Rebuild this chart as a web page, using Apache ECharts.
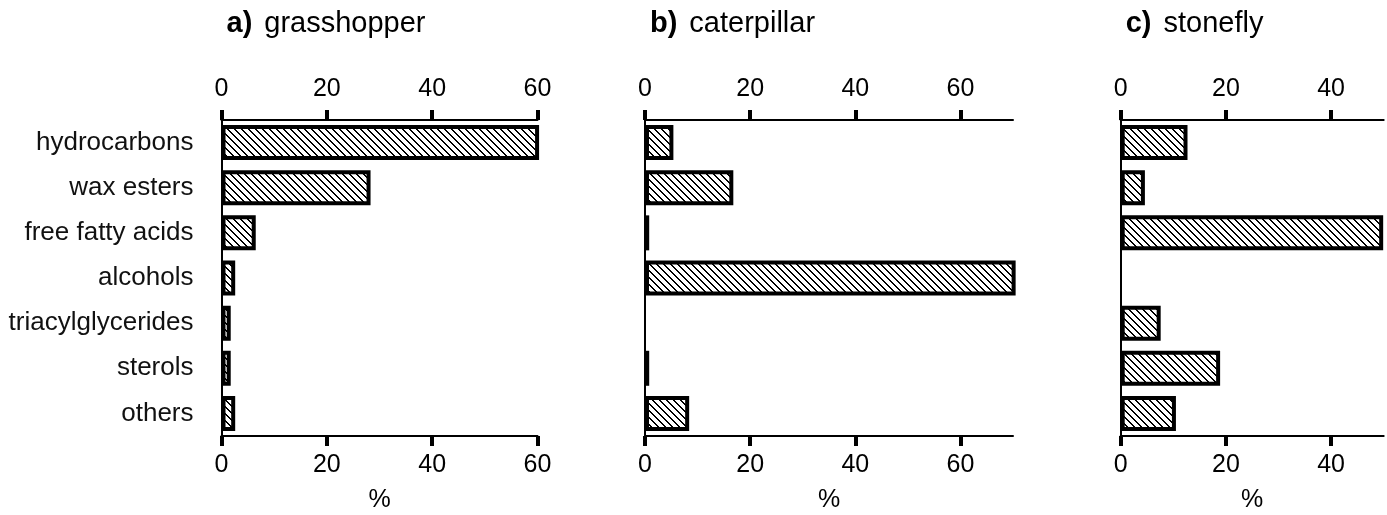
<!DOCTYPE html>
<html>
<head>
<meta charset="utf-8">
<script src="https://cdn.jsdelivr.net/npm/echarts@6/dist/echarts.min.js"></script>
<style>
html,body{margin:0;padding:0;background:#fff;}
#chart{width:1387px;height:515px;}
</style>
</head>
<body>
<div id="chart"></div>
<script>
// ---- data ----
const categories = ['hydrocarbons','wax esters','free fatty acids','alcohols','triacylglycerides','sterols','others'];
const grasshopper = [60.3, 28.3, 6.5, 2.6, 1.75, 1.75, 2.6];
const caterpillar = [5.4, 16.8, 0.8, 70.5, null, 0.8, 8.4];
const stonefly = [12.7, 4.6, 49.9, null, 7.6, 18.9, 10.5];
const panelTitles = [['a)', 'grasshopper'], ['b)', 'caterpillar'], ['c)', 'stonefly']];
const axisMax = [60, 70, 50];
const tickValues = [[0, 20, 40, 60], [0, 20, 40, 60], [0, 20, 40]];
const axisName = '%';

// ---- hatch pattern ----
function makeHatch() {
  const s = 7, w = 2;
  const c = document.createElement('canvas');
  c.width = s; c.height = s;
  const ctx = c.getContext('2d');
  ctx.fillStyle = '#fff';
  ctx.fillRect(0, 0, s, s);
  ctx.fillStyle = '#000';
  for (let y = 0; y < s; y++) {
    for (let x = 0; x < s; x++) {
      if ((((x - y) % s) + s) % s < w) ctx.fillRect(x, y, 1, 1);
    }
  }
  return c;
}
const hatch = { image: makeHatch(), repeat: 'repeat' };

const FONT = '"Liberation Sans", Arial, Helvetica, sans-serif';
const grids = [
  { left: 221.5, width: 316, top: 120, height: 316 },
  { left: 645, width: 368, top: 120, height: 316 },
  { left: 1120.7, width: 263, top: 120, height: 316 }
].map(g => Object.assign(g, { containLabel: false, outerBoundsMode: 'none' }));
const seriesData = [grasshopper, caterpillar, stonefly];

const xAxes = [], yAxes = [], series = [], titles = [];
grids.forEach((g, i) => {
  const common = {
    type: 'value', gridIndex: i, min: 0, max: axisMax[i],
    splitLine: { show: false },
    axisLine: { show: true, lineStyle: { color: '#000', width: 2 } },
    axisTick: { show: true, inside: false, length: 10, lineStyle: { color: '#000', width: 4 }, customValues: tickValues[i] },
    axisLabel: { color: '#000', fontSize: 25, fontFamily: FONT, customValues: tickValues[i] }
  };
  xAxes.push(Object.assign({}, common, {
    position: 'top',
    axisLabel: Object.assign({}, common.axisLabel, { margin: 18 })
  }));
  xAxes.push(Object.assign({}, common, {
    position: 'bottom',
    axisLabel: Object.assign({}, common.axisLabel, { margin: 17 }),
    name: axisName, nameLocation: 'middle', nameGap: 52,
    nameTextStyle: { color: '#000', fontSize: 25, fontFamily: FONT }
  }));
  yAxes.push({
    type: 'category', gridIndex: i, data: categories, inverse: true,
    axisLine: { show: true, onZero: false, lineStyle: { color: '#000', width: 2 } },
    axisTick: { show: false },
    splitLine: { show: false },
    axisLabel: { show: i === 0, color: '#111', fontSize: 26, fontFamily: FONT, margin: 28 }
  });
  series.push({
    type: 'bar', xAxisIndex: i * 2 + 1, yAxisIndex: i,
    data: seriesData[i], barWidth: 35, silent: true, clip: false,
    itemStyle: { color: hatch, borderColor: '#000', borderWidth: 4 },
    animation: false
  });
  titles.push({
    text: '{b|' + panelTitles[i][0] + '}{n|' + panelTitles[i][1] + '}',
    left: g.left, top: 4,
    textStyle: {
      fontWeight: 'normal',
      rich: {
        b: { fontWeight: 'bold', fontSize: 29, fontFamily: FONT, color: '#000', padding: [0, 12, 0, 0] },
        n: { fontWeight: 'normal', fontSize: 29, fontFamily: FONT, color: '#000' }
      }
    }
  });
});

const chart = echarts.init(document.getElementById('chart'), null, { renderer: 'canvas' });
chart.setOption({
  backgroundColor: '#fff',
  animation: false,
  title: titles,
  grid: grids,
  xAxis: xAxes,
  yAxis: yAxes,
  series: series
});
</script>
</body>
</html>
